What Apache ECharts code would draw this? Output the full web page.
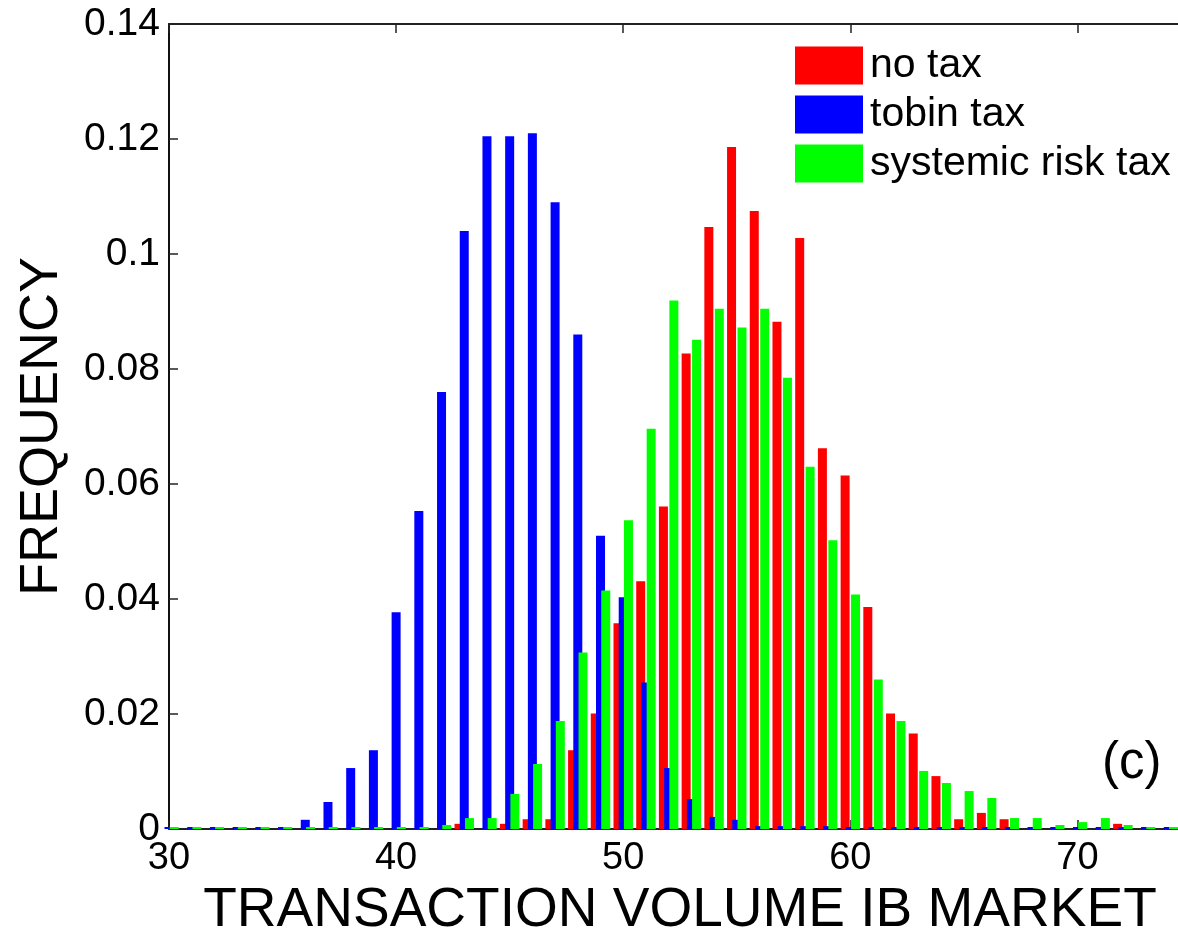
<!DOCTYPE html>
<html>
<head>
<meta charset="utf-8">
<script src="https://cdn.jsdelivr.net/npm/echarts@6/dist/echarts.min.js"></script>
<style>html,body{margin:0;padding:0;background:#fff}#c{width:1178px;height:930px}</style>
</head>
<body>
<div id="c"></div>
<script>
// Bin centers and frequencies
const blueBins = [30,31,32,33,34,35,36,37,38,39,40,41,42,43,44,45,46,47,48,49,50,51,52,53,54,55,56,57,58,59,60,61,62,63,64,65,66,67,68,69,70,71,72,73,74];
const tobinTax = [0,0,0,0,0,0,0.0016,0.0047,0.0106,0.0137,0.0377,0.0553,0.0760,0.1040,0.1205,0.1205,0.1210,0.1090,0.0860,0.0510,0.0403,0.0255,0.0106,0.0052,0.0021,0.0016,0.0005,0.0005,0.0005,0.0005,0,0,0,0,0,0,0,0,0,0,0,0,0,0,0];

const redBins = [42.77,43.77,44.77,45.77,46.77,47.77,48.77,49.77,50.77,51.77,52.77,53.77,54.77,55.77,56.77,57.77,58.77,59.77,60.77,61.77,62.77,63.77,64.77,65.77,66.77,67.77,68.77,69.77,70.77,71.77];
const noTax = [0.0009,null,0.0009,0.0017,0.0017,0.0137,0.0201,0.0358,0.0431,0.0561,0.0827,0.1047,0.1186,0.1075,0.0882,0.1028,0.0662,0.0615,0.0386,0.0201,0.0166,0.0092,0.0017,0.0028,0.0017,null,null,null,null,0.0009];

const greenBins = [30.23,31.23,32.23,33.23,34.23,35.23,36.23,37.23,38.23,39.23,40.23,41.23,42.23,43.23,44.23,45.23,46.23,47.23,48.23,49.23,50.23,51.23,52.23,53.23,54.23,55.23,56.23,57.23,58.23,59.23,60.23,61.23,62.23,63.23,64.23,65.23,66.23,67.23,68.23,69.23,70.23,71.23,72.23,73.23,74.23];
const systemicRiskTax = [0,0,0,0,0,0,0,0,0,0,0,0,0.0007,0.0019,0.0019,0.0061,0.0113,0.0188,0.0307,0.0415,0.0537,0.0696,0.0919,0.0851,0.0905,0.0872,0.0905,0.0785,0.0630,0.0502,0.0408,0.0260,0.0188,0.0101,0.0080,0.0066,0.0054,0.0019,0.0019,0.0007,0.0012,0.0019,0.0007,0,0];

const seriesNames = ['no tax','tobin tax','systemic risk tax'];
const xTicks = [30,40,50,60,70];
const yTicks = [0,0.02,0.04,0.06,0.08,0.1,0.12,0.14];

function pairs(xs, ys){ return xs.map((x,i)=> ys[i]===null ? [x,'-'] : [x, ys[i]]); }

const FONT = '"Liberation Sans", Arial, Helvetica, sans-serif';
const chart = echarts.init(document.getElementById('c'), null, {renderer:'canvas'});

const barCommon = {
  type:'bar', barWidth:9, barGap:'-100%', barMinHeight:2,
  xAxisIndex:0, yAxisIndex:0, animation:false,
  emphasis:{disabled:true}
};

chart.setOption({
  animation:false,
  backgroundColor:'#fff',
  grid:{left:169, top:24, right:-13, bottom:101, containLabel:false, outerBoundsMode:'none'},
  legend:{
    orient:'vertical', left:795, top:45, padding:0,
    itemWidth:68, itemHeight:38, itemGap:8,
    icon:'rect',
    data:seriesNames,
    textStyle:{fontFamily:FONT, fontSize:41, color:'#000', lineHeight:38, padding:[0,0,0,2]}
  },
  xAxis:[{
    type:'value', min:30, max:75, interval:10, position:'bottom',
    name:'TRANSACTION VOLUME IB MARKET', nameLocation:'middle', nameGap:46,
    nameTextStyle:{fontFamily:FONT, fontSize:55, color:'#000'},
    axisLine:{show:true, onZero:false, lineStyle:{color:'#222', width:2}},
    axisTick:{show:true, inside:true, length:9, lineStyle:{color:'#222', width:1.5}},
    axisLabel:{show:true, margin:11, fontFamily:FONT, fontSize:38, color:'#000', showMaxLabel:false,
      formatter:function(v){ return xTicks.indexOf(v)>=0 ? String(v) : ''; }},
    splitLine:{show:false}
  },{
    type:'value', min:30, max:75, interval:10, position:'top',
    axisLine:{show:true, onZero:false, lineStyle:{color:'#222', width:2}},
    axisTick:{show:true, inside:true, length:9, lineStyle:{color:'#222', width:1.5}},
    axisLabel:{show:false}, splitLine:{show:false}
  }],
  yAxis:[{
    type:'value', min:0, max:0.14, interval:0.02, position:'left',
    name:'FREQUENCY', nameLocation:'middle', nameGap:100, nameRotate:90,
    nameTextStyle:{fontFamily:FONT, fontSize:54, color:'#000'},
    axisLine:{show:true, onZero:false, lineStyle:{color:'#111', width:2}},
    axisTick:{show:true, inside:true, length:9, lineStyle:{color:'#222', width:1.5}},
    axisLabel:{show:true, margin:9, fontFamily:FONT, fontSize:39, color:'#000',
      formatter:function(v){ const r = Math.round(v*100)/100; return yTicks.indexOf(r)>=0 ? String(r) : ''; }},
    splitLine:{show:false}
  }],
  series:[
    Object.assign({}, barCommon, {name:seriesNames[0], itemStyle:{color:'#ff0000'}, data:pairs(redBins, noTax), barMinHeight:0}),
    Object.assign({}, barCommon, {name:seriesNames[1], itemStyle:{color:'#0000ff'}, data:pairs(blueBins, tobinTax)}),
    Object.assign({}, barCommon, {name:seriesNames[2], itemStyle:{color:'#00ff00'}, data:pairs(greenBins, systemicRiskTax)})
  ],
  graphic:[{
    type:'text', left:1102, top:738,
    style:{text:'(c)', fontFamily:FONT, fontSize:51, fill:'#000'}
  }]
});
</script>
</body>
</html>
